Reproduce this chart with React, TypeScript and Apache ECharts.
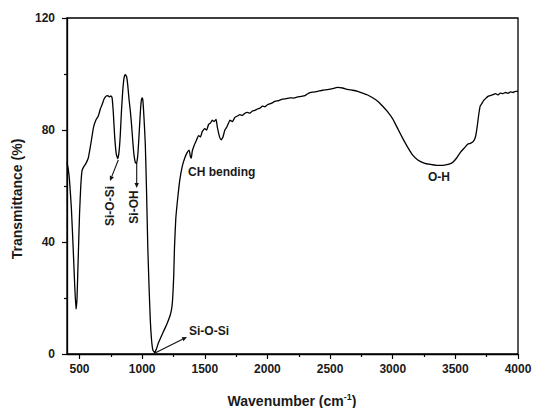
import React, { useEffect, useRef } from "react";
import * as echarts from "echarts";

const wavenumbers = [
  400, 410, 420, 435, 450, 462, 472, 480, 490, 500, 510, 520, 535, 550, 570, 590, 612, 630, 650, 666,
  680, 695, 710, 725, 740, 750, 760, 770, 780, 793, 805, 815, 825, 835, 845, 855, 865, 875, 885, 895,
  905, 915, 925, 935, 945, 955, 965, 975, 985, 993, 1000, 1006, 1015, 1025, 1035, 1045, 1055, 1065, 1075, 1085,
  1100, 1115, 1130, 1145, 1170, 1200, 1225, 1238, 1245, 1252, 1258, 1268, 1280, 1300, 1320, 1340, 1360, 1375, 1385, 1392,
  1400, 1415, 1430, 1450, 1465, 1480, 1500, 1515, 1530, 1545, 1560, 1575, 1590, 1600, 1615, 1630, 1645, 1660, 1675, 1690,
  1700, 1720, 1740, 1760, 1780, 1800, 1820, 1840, 1860, 1880, 1900, 1920, 1940, 1960, 1980, 2000, 2030, 2060, 2090, 2120,
  2150, 2180, 2210, 2240, 2270, 2300, 2330, 2360, 2400, 2440, 2480, 2520, 2560, 2600, 2640, 2680, 2720, 2760, 2800, 2840,
  2880, 2920, 2960, 3000, 3040, 3080, 3120, 3160, 3200, 3250, 3300, 3350, 3400, 3450, 3480, 3510, 3540, 3570, 3600, 3620,
  3645, 3660, 3672, 3685, 3698, 3712, 3725, 3740, 3760, 3780, 3800, 3820, 3840, 3860, 3880, 3900, 3920, 3940, 3960, 3980,
  4000,
];

const transmittance = [
  68.5, 66, 62, 52, 37, 24, 16, 20, 35, 50, 60, 65.5, 67, 68, 70, 75, 81, 83.5, 85, 87.5,
  89, 91, 92, 92.3, 91.8, 92.2, 91.5, 86, 78, 71.5, 69.8, 72, 78, 87, 94, 98.5, 99.8, 99.2, 96, 91,
  87, 82, 76, 71, 68.5, 68, 71, 78, 86, 90.5, 91.5, 90.5, 84, 75, 58, 38, 24, 12, 5, 1.5,
  0.5, 2, 4, 5.5, 8, 11, 14, 17, 21, 28, 38, 48, 54, 62, 67, 70, 72, 72.8, 70.5, 70,
  72.5, 74.5, 76, 78, 77.5, 79.5, 80.5, 80, 82, 82.5, 83.5, 83, 83.8, 81, 78, 76.5, 77.5, 80, 81, 82.5,
  83.5, 83, 84.5, 85, 85.5, 85.2, 86, 86.3, 86, 86.8, 87, 87.5, 87.8, 88.5, 88.3, 89, 89.5, 90.2, 90.5, 91,
  91.2, 91.5, 91.4, 91.8, 92, 92.3, 93.2, 93.5, 93.8, 94.2, 94.4, 94.8, 95.2, 95, 94.5, 94.2, 93.8, 93.2, 92.5, 91.5,
  90.3, 88.5, 86.5, 84, 80.5, 77, 73.8, 71, 69.3, 68.2, 67.7, 67.4, 67.4, 67.8, 68.5, 70, 72, 73.5, 75, 75.2,
  76, 77.5, 80.5, 85, 88.5, 89.5, 90.5, 91.2, 92, 92.3, 92.6, 93, 92.5, 93.2, 93, 93.4, 93.1, 93.6, 93.4, 93.8,
  93.8,
];

const xMajorTicks = [500, 1000, 1500, 2000, 2500, 3000, 3500, 4000];
const xMinorTicks = [750, 1250, 1750, 2250, 2750, 3250, 3750];

const FONT = "Arial, 'Liberation Sans', sans-serif";
const TEXT_COLOR = "#1a1a1a";

function arrow(x1: number, y1: number, x2: number, y2: number) {
  const dx = x2 - x1;
  const dy = y2 - y1;
  const len = Math.sqrt(dx * dx + dy * dy);
  const ux = dx / len;
  const uy = dy / len;
  const L = 5;
  const W = 2.2;
  const bx = x2 - ux * L;
  const by = y2 - uy * L;
  return [
    {
      type: "line",
      shape: { x1, y1, x2: bx, y2: by },
      style: { stroke: "#111", lineWidth: 1.1 },
    },
    {
      type: "polygon",
      shape: {
        points: [
          [x2, y2],
          [bx - uy * W, by + ux * W],
          [bx + uy * W, by - ux * W],
        ],
      },
      style: { fill: "#111" },
    },
  ];
}

function label(text: string, x: number, y: number, align: string, rotate = 0) {
  return {
    type: "text",
    x,
    y,
    rotation: rotate,
    style: {
      text,
      fill: TEXT_COLOR,
      font: `bold 12px ${FONT}`,
      textAlign: align,
      textVerticalAlign: "middle",
    },
  };
}

export default function App() {
  const ref = useRef<HTMLDivElement>(null);

  useEffect(() => {
    if (!ref.current) return;
    const chart = echarts.init(ref.current, undefined, { renderer: "svg" });
    const data = wavenumbers.map((w, i) => [w, transmittance[i]]);

    chart.setOption({
      animation: false,
      backgroundColor: "#ffffff",
      grid: {
        left: 67,
        right: 16,
        top: 18,
        bottom: 54,
        containLabel: false,
        outerBoundsMode: "none",
        show: true,
        borderColor: "#000",
        borderWidth: 1.3,
      },
      xAxis: [
        {
          type: "value",
          min: 400,
          max: 4000,
          axisLine: { show: true, onZero: false, lineStyle: { color: "#000", width: 1.3 } },
          axisTick: {
            show: true,
            customValues: xMajorTicks,
            length: 5,
            lineStyle: { color: "#000", width: 1.2 },
          },
          axisLabel: {
            customValues: xMajorTicks,
            formatter: (v: number) => String(v),
            color: TEXT_COLOR,
            fontFamily: FONT,
            fontWeight: "bold",
            fontSize: 12,
            margin: 9,
          },
          splitLine: { show: false },
        },
        {
          type: "value",
          min: 400,
          max: 4000,
          position: "bottom",
          axisLine: { show: false },
          axisTick: {
            show: true,
            customValues: xMinorTicks,
            length: 3,
            lineStyle: { color: "#000", width: 1.2 },
          },
          axisLabel: { show: false },
          splitLine: { show: false },
        },
      ],
      yAxis: {
        type: "value",
        min: 0,
        max: 120,
        interval: 40,
        axisLine: { show: true, onZero: false, lineStyle: { color: "#000", width: 1.3 } },
        axisTick: { show: true, length: 5, lineStyle: { color: "#000", width: 1.2 } },
        minorTick: { show: true, splitNumber: 2, length: 3, lineStyle: { color: "#000", width: 1.2 } },
        axisLabel: {
          formatter: (v: number) => String(v),
          color: TEXT_COLOR,
          fontFamily: FONT,
          fontWeight: "bold",
          fontSize: 12,
          margin: 12,
        },
        splitLine: { show: false },
      },
      series: [
        {
          type: "line",
          xAxisIndex: 0,
          data,
          showSymbol: false,
          symbol: "none",
          smooth: 0.15,
          lineStyle: { color: "#000", width: 1.3 },
        },
      ],
      graphic: [
        {
          type: "text",
          x: 17,
          y: 199,
          rotation: Math.PI / 2,
          style: {
            text: "Transmittance (%)",
            fill: TEXT_COLOR,
            font: `bold 14px ${FONT}`,
            textAlign: "center",
            textVerticalAlign: "middle",
          },
        },
        {
          type: "text",
          x: 292,
          y: 401,
          style: {
            text: "{a|Wavenumber (cm}{s|-1}{a|)}",
            textAlign: "center",
            textVerticalAlign: "middle",
            rich: {
              a: { font: `bold 14px ${FONT}`, fill: TEXT_COLOR, lineHeight: 18 },
              s: { font: `bold 9px ${FONT}`, fill: TEXT_COLOR, lineHeight: 9, verticalAlign: "top" },
            },
          },
        },
        label("Si-O-Si", 110, 206, "center", Math.PI / 2),
        label("Si-OH", 133.5, 207, "center", Math.PI / 2),
        label("CH bending", 188, 172, "left"),
        label("Si-O-Si", 189, 331, "left"),
        label("O-H", 439, 177, "center"),
        ...arrow(118.3, 160, 110, 181),
        ...arrow(136.7, 163, 136.7, 188),
        ...arrow(155, 353, 187, 337),
      ],
    });

    return () => chart.dispose();
  }, []);

  return (
    <div
      ref={ref}
      style={{ position: "fixed", left: 0, top: 0, width: 534, height: 408, background: "#fff" }}
    />
  );
}
